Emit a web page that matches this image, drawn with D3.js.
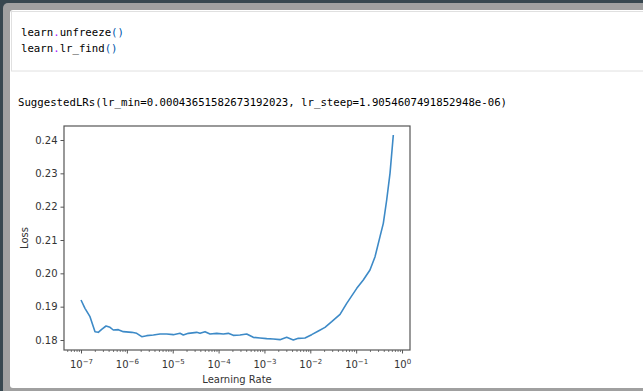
<!DOCTYPE html>
<html>
<head>
<meta charset="utf-8">
<script src="https://cdn.jsdelivr.net/npm/d3@7"></script>
<style>
  html, body { margin: 0; padding: 0; background: #37474f; }
  svg { display: block; }
</style>
</head>
<body>
<div id="wrap"></div>
<script>
// code cell / output text
const codeLines = [
  [["learn", "#000"], [".", "#aa22ff"], ["unfreeze", "#000"], ["()", "#0055aa"]],
  [["learn", "#000"], [".", "#aa22ff"], ["lr_find", "#000"], ["()", "#0055aa"]]
];
const outputText = "SuggestedLRs(lr_min=0.00043651582673192023, lr_steep=1.9054607491852948e-06)";

// lr_find curve
const learningRates = [
  1.00e-7, 1.22e-7, 1.57e-7, 2.02e-7, 2.38e-7, 2.82e-7, 3.51e-7, 4.29e-7, 5.06e-7, 6.50e-7,
  8.36e-7, 1.28e-6, 1.64e-6, 2.11e-6, 2.71e-6, 3.78e-6, 5.28e-6, 7.40e-6, 1.03e-5, 1.44e-5,
  1.70e-5, 2.19e-5, 3.33e-5, 3.94e-5, 5.06e-5, 6.50e-5, 9.10e-5, 1.27e-4, 1.63e-4, 2.09e-4,
  2.93e-4, 4.10e-4, 5.71e-4, 8.00e-4, 1.12e-3, 1.56e-3, 2.18e-3, 3.05e-3, 4.26e-3, 5.47e-3,
  7.66e-3, 1.07e-2, 1.50e-2, 2.09e-2, 2.93e-2, 4.45e-2, 6.22e-2, 1.03e-1, 1.43e-1, 2.00e-1,
  2.58e-1, 3.31e-1, 3.91e-1, 4.63e-1, 5.47e-1, 6.46e-1
];
const losses = [
  0.1920, 0.1895, 0.1870, 0.1825, 0.1823, 0.1832, 0.1842, 0.1838, 0.1830, 0.1831,
  0.1825, 0.1823, 0.1820, 0.1810, 0.1813, 0.1815, 0.1818, 0.1818, 0.1816, 0.1820,
  0.1815, 0.1820, 0.1823, 0.1820, 0.1825, 0.1818, 0.1820, 0.1818, 0.1820, 0.1814,
  0.1815, 0.1818, 0.1808, 0.1806, 0.1804, 0.1803, 0.1801, 0.1808, 0.1800, 0.1805,
  0.1806, 0.1816, 0.1827, 0.1838, 0.1855, 0.1877, 0.1910, 0.1955, 0.1980, 0.2010,
  0.2050, 0.2110, 0.2150, 0.2220, 0.2300, 0.2415
];

const xMajorTicks = [1e-7, 1e-6, 1e-5, 1e-4, 1e-3, 1e-2, 1e-1, 1e0];
const xTickExponents = ["\u22127", "\u22126", "\u22125", "\u22124", "\u22123", "\u22122", "\u22121", "0"];
const yTicks = [0.18, 0.19, 0.20, 0.21, 0.22, 0.23, 0.24];

const W = 643, H = 391;
const box = { left: 64, top: 126, right: 410, bottom: 350 };

const svg = d3.select("#wrap").append("svg")
  .attr("width", W).attr("height", H)
  .attr("viewBox", `0 0 ${W} ${H}`);

// notebook frame
svg.append("rect").attr("x", 0).attr("y", 0).attr("width", W).attr("height", H).attr("fill", "#37474f");
svg.append("rect").attr("x", 3).attr("y", 3).attr("width", W + 20).attr("height", 385 + 20)
  .attr("rx", 5).attr("fill", "#a0a0a0");
svg.append("rect").attr("x", 10).attr("y", 10).attr("width", W + 20).attr("height", 378)
  .attr("rx", 3).attr("fill", "#fff");
svg.append("rect").attr("x", 11.5).attr("y", 11.5).attr("width", W + 20).attr("height", 59.5)
  .attr("fill", "#fff").attr("stroke", "#e0e0e0").attr("stroke-width", 1);

const mono = "'DejaVu Sans Mono', monospace";
codeLines.forEach((parts, i) => {
  const t = svg.append("text")
    .attr("x", 21).attr("y", 35.5 + i * 16.5)
    .attr("font-family", mono).attr("font-size", 10.7)
    .attr("xml:space", "preserve");
  parts.forEach(p => t.append("tspan").attr("fill", p[1]).text(p[0]));
});

svg.append("text")
  .attr("x", 18).attr("y", 106)
  .attr("font-family", mono).attr("font-size", 10.7)
  .attr("fill", "#000")
  .text(outputText);

// chart
const x = d3.scaleLog()
  .domain([Math.pow(10, -7.371), Math.pow(10, 0.174)])
  .range([box.left, box.right]);
const y = d3.scaleLinear()
  .domain([0.1770, 0.2442])
  .range([box.bottom, box.top]);

const sans = "'DejaVu Sans', sans-serif";
const axisColor = "#555";
const textColor = "#333";

// minor ticks on x
const minorTicks = [];
for (let e = -8; e <= 0; e++) {
  for (let m = 2; m <= 9; m++) {
    const v = m * Math.pow(10, e);
    if (v >= x.domain()[0] && v <= x.domain()[1]) minorTicks.push(v);
  }
}
svg.append("g")
  .attr("transform", `translate(0,${box.bottom})`)
  .call(d3.axisBottom(x).tickValues(minorTicks).tickSize(2).tickFormat(""))
  .call(g => g.select(".domain").remove())
  .call(g => g.selectAll("line").attr("stroke", axisColor).attr("stroke-width", 0.8));

const xAxis = svg.append("g")
  .attr("transform", `translate(0,${box.bottom})`)
  .call(d3.axisBottom(x).tickValues(xMajorTicks).tickSize(3.5).tickFormat(""));
xAxis.select(".domain").remove();
xAxis.selectAll("line").attr("stroke", axisColor).attr("stroke-width", 1);
xAxis.selectAll(".tick").append("text")
  .attr("y", 18)
  .attr("fill", textColor)
  .attr("font-family", sans)
  .attr("font-size", 10)
  .attr("text-anchor", "middle")
  .each(function(d, i) {
    const t = d3.select(this);
    t.append("tspan").text("10");
    t.append("tspan").attr("font-size", 7).attr("dy", -4.5).text(xTickExponents[i]);
  });

const yAxis = svg.append("g")
  .attr("transform", `translate(${box.left},0)`)
  .call(d3.axisLeft(y).tickValues(yTicks).tickSize(3.5).tickPadding(3).tickFormat(d3.format(".2f")));
yAxis.select(".domain").remove();
yAxis.selectAll("line").attr("stroke", axisColor).attr("stroke-width", 1);
yAxis.selectAll("text")
  .attr("fill", textColor)
  .attr("font-family", sans)
  .attr("font-size", 10);

// loss curve
const pts = learningRates.map((lr, i) => [lr, losses[i]]);
svg.append("path")
  .datum(pts)
  .attr("fill", "none")
  .attr("stroke", "#3d8ac7")
  .attr("stroke-width", 1.6)
  .attr("stroke-linejoin", "round")
  .attr("d", d3.line().x(d => x(d[0])).y(d => y(d[1])));

// axes frame
svg.append("rect")
  .attr("x", box.left).attr("y", box.top)
  .attr("width", box.right - box.left).attr("height", box.bottom - box.top)
  .attr("fill", "none").attr("stroke", axisColor).attr("stroke-width", 1.2);

svg.append("text")
  .attr("x", (box.left + box.right) / 2).attr("y", 383)
  .attr("text-anchor", "middle")
  .attr("fill", textColor).attr("font-family", sans).attr("font-size", 10)
  .text("Learning Rate");

svg.append("text")
  .attr("transform", `translate(28,${(box.top + box.bottom) / 2}) rotate(-90)`)
  .attr("text-anchor", "middle")
  .attr("fill", textColor).attr("font-family", sans).attr("font-size", 10)
  .text("Loss");
</script>
</body>
</html>
